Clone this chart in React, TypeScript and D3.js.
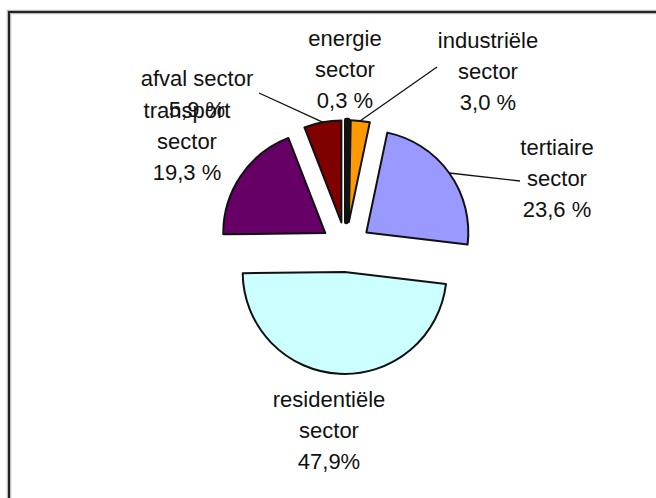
import React from "react";
import * as d3 from "d3";

// ---- data ----
const categories = [
  "energie sector",
  "industriële sector",
  "tertiaire sector",
  "residentiële sector",
  "transport sector",
  "afval sector",
];
const values = [0.3, 3.0, 23.6, 47.9, 19.3, 5.9];
const labelTexts = [
  ["energie", "sector", "0,3 %"],
  ["industriële", "sector", "3,0 %"],
  ["tertiaire", "sector", "23,6 %"],
  ["residentiële", "sector", "47,9%"],
  ["transport", "sector", "19,3 %"],
  ["afval sector", "5,9 %"],
];
const colors = ["#000000", "#FF9900", "#9999FF", "#CCFFFF", "#660066", "#800000"];

// ---- layout ----
const W = 656;
const H = 498;
const CX = 346;
const CY = 247;
const R = 102;
const EXPLODE = 25;
const LINE_H = 31;
// label anchors: [center x, first baseline y]
const labelPos: [number, number][] = [
  [345, 46],
  [488, 48],
  [557, 155],
  [329, 407],
  [187, 118],
  [197, 86],
];
// leader line start (near label), null = no leader
const leaderStart: ([number, number] | null)[] = [
  null,
  [437, 67],
  [520, 181],
  null,
  null,
  [259, 93],
];

export default function App() {
  const pie = d3
    .pie<number>()
    .sort(null)
    .value((d) => d)
    .startAngle(0)
    .endAngle(2 * Math.PI);
  const arcs = pie(values);
  const arcGen = d3.arc<d3.PieArcDatum<number>>().innerRadius(0).outerRadius(R);

  const offsetOf = (a: d3.PieArcDatum<number>) => {
    const mid = (a.startAngle + a.endAngle) / 2;
    return [EXPLODE * Math.sin(mid), -EXPLODE * Math.cos(mid)];
  };

  // draw the tiny first slice last so it stays visible on top
  const order = arcs.map((_, i) => i).slice(1).concat([0]);

  return (
    <svg
      width={W}
      height={H}
      style={{ position: "absolute", left: 0, top: 0, background: "#fff" }}
      fontFamily="'Liberation Sans', Arial, sans-serif"
    >
      <rect x={0} y={0} width={W} height={H} fill="#fff" />
      {/* frame */}
      <rect x={9} y={12} width={W + 20} height={H + 20} fill="none" stroke="#bbb" strokeWidth={4.5} />
      <rect x={9} y={12} width={W + 20} height={H + 20} fill="none" stroke="#222" strokeWidth={2} />

      {/* slices */}
      {order.map((i) => {
        const a = arcs[i];
        const [ox, oy] = offsetOf(a);
        return (
          <path
            key={categories[i]}
            d={arcGen(a) || ""}
            transform={`translate(${CX + ox},${CY + oy})`}
            fill={colors[i]}
            stroke="#111"
            strokeWidth={i === 0 ? 4.5 : 2}
            strokeLinejoin="round"
          />
        );
      })}

      {/* leader lines */}
      {arcs.map((a, i) => {
        const s = leaderStart[i];
        if (!s) return null;
        const [ox, oy] = offsetOf(a);
        const mid = (a.startAngle + a.endAngle) / 2;
        const ex = CX + ox + R * Math.sin(mid);
        const ey = CY + oy - R * Math.cos(mid);
        return (
          <line
            key={"l" + i}
            x1={s[0]}
            y1={s[1]}
            x2={ex}
            y2={ey}
            stroke="#111"
            strokeWidth={1.3}
          />
        );
      })}

      {/* labels */}
      {labelTexts.map((lines, i) => (
        <text
          key={"t" + i}
          x={labelPos[i][0]}
          y={labelPos[i][1]}
          textAnchor="middle"
          fontSize={22}
          fill="#111"
        >
          {lines.map((ln, j) => (
            <tspan key={j} x={labelPos[i][0]} y={labelPos[i][1] + j * LINE_H}>
              {ln}
            </tspan>
          ))}
        </text>
      ))}
    </svg>
  );
}
